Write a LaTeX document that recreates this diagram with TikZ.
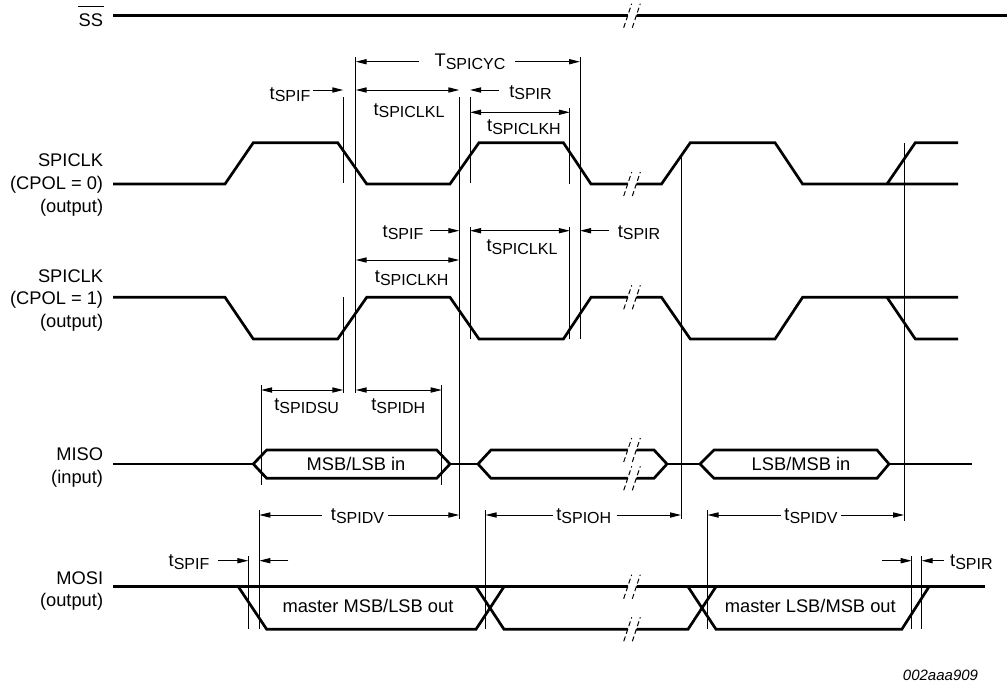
\documentclass[tikz,border=0pt]{standalone}
\usepackage{fontspec}
\setmainfont{Liberation Sans}
\usetikzlibrary{arrows.meta}
\newcommand{\tsb}[2]{#1\raisebox{-1.3pt}{\fontsize{8}{9}\selectfont #2}}
\begin{document}
\begin{tikzpicture}[x=0.5pt,y=-0.5pt,
  sig/.style={line width=1.35pt},
  guide/.style={line width=0.5pt},
  dimarr/.style={line width=0.5pt,-{Triangle[length=5.5pt,width=2.6pt]}},
  dimboth/.style={line width=0.5pt,{Triangle[length=5.5pt,width=2.6pt]}-{Triangle[length=5.5pt,width=2.6pt]}},
  lbl/.style={anchor=base east,font=\fontsize{9.15}{11}\selectfont,inner sep=0pt},
  tl/.style={anchor=base,font=\fontsize{9.15}{11}\selectfont,inner sep=0pt},
  txt/.style={anchor=center,font=\fontsize{9.15}{11}\selectfont,inner sep=0pt},
  breakmark/.pic={
    \fill[white] (-5.3,3.2) -- (-3.3,-3.2) -- (5.3,-3.2) -- (3.3,3.2) -- cycle;
    \draw[line width=0.5pt,dash pattern=on 2.5pt off 1.5pt] (-8.3,12) -- (-0.3,-12);
    \draw[line width=0.5pt,dash pattern=on 2.5pt off 1.5pt] (0.3,12) -- (8.3,-12);
  }]
\fill[white] (0,0) rectangle (1007,685);
\useasboundingbox (0,0) rectangle (1007,685);

% ---- left labels ----
\node[lbl] (ssl) at (103.5,26.7) {SS};
\draw[line width=0.5pt] ([yshift=3.6pt]ssl.north west) -- ([yshift=3.6pt]ssl.north east);
\node[lbl] (c0a) at (103.5,166.5) {SPICLK};
\node[lbl] (c0b) at (103.5,189.5) {(CPOL = 0)};
\node[lbl] (c0c) at (103.5,212.5) {(output)};
\node[lbl] (c1a) at (103.5,282) {SPICLK};
\node[lbl] (c1b) at (103.5,304.7) {(CPOL = 1)};
\node[lbl] (c1c) at (103.5,327) {(output)};
\node[lbl] (misoa) at (103.5,460) {MISO};
\node[lbl] (misob) at (103.5,483) {(input)};
\node[lbl] (mosia) at (103.5,584) {MOSI};
\node[lbl] (mosib) at (103.5,606.7) {(output)};

% ---- guide lines ----
\draw[guide] (343.3,97) -- (343.3,183);
\draw[guide] (343.3,297) -- (343.3,393);
\draw[guide] (355.7,57) -- (355.7,393);
\draw[guide] (459.3,97) -- (459.3,519);
\draw[guide] (470,97) -- (470,183);
\draw[guide] (470,227) -- (470,339);
\draw[guide] (569.8,108) -- (569.8,184);
\draw[guide] (569.8,227) -- (569.8,339);
\draw[guide] (580,57) -- (580,339);
\draw[guide] (681,157) -- (681,519);
\draw[guide] (904,143) -- (904,521);
\draw[guide] (261,385) -- (261,485);
\draw[guide] (441.7,385) -- (441.7,485);
\draw[guide] (259.3,510) -- (259.3,629);
\draw[guide] (248.3,556) -- (248.3,629);
\draw[guide] (485.5,510) -- (485.5,629);
\draw[guide] (707.5,510) -- (707.5,629);
\draw[guide] (911.6,556) -- (911.6,629);
\draw[guide] (921.7,556) -- (921.7,629);

% ---- signals ----
% SS
\draw[sig] (113,15.7) -- (1007,15.7);
\pic at (632,15.7) {breakmark};
% SPICLK CPOL=0
\draw[sig] (113,184) -- (225,184) -- (253.3,142.7) -- (337.7,142.7) -- (366.7,184) -- (450,184) -- (479,142.7) -- (563.4,142.7) -- (591,184) -- (661.5,184) -- (690.3,142.7) -- (775,142.7) -- (802.6,184) -- (958,184);
\draw[sig] (887,184) -- (915.3,142.7) -- (958,142.7);
\pic at (632,184) {breakmark};
% SPICLK CPOL=1
\draw[sig] (113,297.3) -- (225,297.3) -- (253.3,339) -- (337.7,339) -- (366.7,297.3) -- (450,297.3) -- (479,339) -- (563.4,339) -- (591,297.3) -- (661.5,297.3) -- (690.3,339) -- (775,339) -- (802.6,297.3) -- (958,297.3);
\draw[sig] (887,297.3) -- (915.3,339) -- (958,339);
\pic at (632,297.3) {breakmark};
% MISO
\draw[sig] (113,464) -- (253.3,464);
\draw[sig] (253.3,464) -- (266.7,450) -- (436.7,450) -- (450,464) -- (436.7,478.3) -- (266.7,478.3) -- cycle;
\draw[sig] (450,464) -- (478,464);
\draw[sig] (478,464) -- (491,450) -- (654,450) -- (667,464) -- (654,478.3) -- (491,478.3) -- cycle;
\draw[sig] (667,464) -- (700,464);
\draw[sig] (700,464) -- (714,450) -- (877,450) -- (889,464) -- (877,478.3) -- (714,478.3) -- cycle;
\draw[sig] (889,464) -- (971.5,464);
\pic at (632,450) {breakmark};
\pic at (632,478.3) {breakmark};
\node[txt] (misod1) at (356,464) {MSB/LSB in};
\node[txt] (misod3) at (801,464) {LSB/MSB in};
% MOSI
\draw[sig] (113,586.7) -- (985,586.7);
\draw[sig] (238.3,586.7) -- (266.7,629.3) -- (476,629.3) -- (504,586.7);
\draw[sig] (476,586.7) -- (504,629.3) -- (688,629.3) -- (716,586.7);
\draw[sig] (688,586.7) -- (716,629.3) -- (901.8,629.3) -- (929,586.7);
\pic at (632,586.7) {breakmark};
\pic at (632,629.3) {breakmark};
\node[txt] (mosid1) at (368,606) {master MSB/LSB out};
\node[txt] (mosid2) at (810.3,606) {master LSB/MSB out};

% ---- timing labels ----
\node[tl] (tcyc) at (470,66.7) {\tsb{T}{SPICYC}};
\node[tl] (tf0) at (290,99) {\tsb{t}{SPIF}};
\node[tl] (tkl0) at (409,115) {\tsb{t}{SPICLKL}};
\node[tl] (tr0) at (530.5,97) {\tsb{t}{SPIR}};
\node[tl] (tkh0) at (524,131.7) {\tsb{t}{SPICLKH}};
\node[tl] (tf1) at (403,237.3) {\tsb{t}{SPIF}};
\node[tl] (tkh1) at (411.7,282.7) {\tsb{t}{SPICLKH}};
\node[tl] (tkl1) at (522,251.7) {\tsb{t}{SPICLKL}};
\node[tl] (tr1) at (639,237.3) {\tsb{t}{SPIR}};
\node[tl] (tsu) at (306.7,410.7) {\tsb{t}{SPIDSU}};
\node[tl] (th) at (398.3,410.7) {\tsb{t}{SPIDH}};
\node[tl] (tdv1) at (357.5,520.7) {\tsb{t}{SPIDV}};
\node[tl] (toh) at (583.8,520.7) {\tsb{t}{SPIOH}};
\node[tl] (tdv2) at (811,520.7) {\tsb{t}{SPIDV}};
\node[tl] (tfm) at (189,566.7) {\tsb{t}{SPIF}};
\node[tl,anchor=base west] (trm) at (949.8,566.7) {\tsb{t}{SPIR}};

% ---- dimension arrows ----
\draw[dimarr] (419,61.7) -- (355.7,61.7);
\draw[dimarr] (515,61.7) -- (580,61.7);
\draw[dimarr] (313,90) -- (343.3,90);
\draw[dimboth] (355.7,90) -- (459.3,90);
\draw[dimarr] (498.6,90) -- (470,90);
\draw[dimboth] (470,112.3) -- (569.8,112.3);
\draw[dimarr] (430,230.7) -- (459.3,230.7);
\draw[dimboth] (355.7,260) -- (459.3,260);
\draw[dimboth] (470,230.7) -- (569.8,230.7);
\draw[dimarr] (609,230.7) -- (580,230.7);
\draw[dimboth] (261,390) -- (343.3,390);
\draw[dimboth] (355.7,390) -- (441.7,390);
\draw[dimarr] (321.7,515) -- (259.3,515);
\draw[dimarr] (388.3,515) -- (459.3,515);
\draw[dimarr] (553,515) -- (485.5,515);
\draw[dimarr] (616.6,515) -- (681,515);
\draw[dimarr] (781,515) -- (707.5,515);
\draw[dimarr] (841,515) -- (904,515);
\draw[dimarr] (218.3,560.7) -- (248.3,560.7);
\draw[dimarr] (288.3,560.7) -- (259.3,560.7);
\draw[dimarr] (882.4,560.7) -- (911.6,560.7);
\draw[dimarr] (944,560.7) -- (921.7,560.7);

\node[anchor=center,inner sep=0pt,font=\fontsize{7.5}{9}\selectfont\itshape] (code) at (940.5,675) {002aaa909};
\end{tikzpicture}
\end{document}
